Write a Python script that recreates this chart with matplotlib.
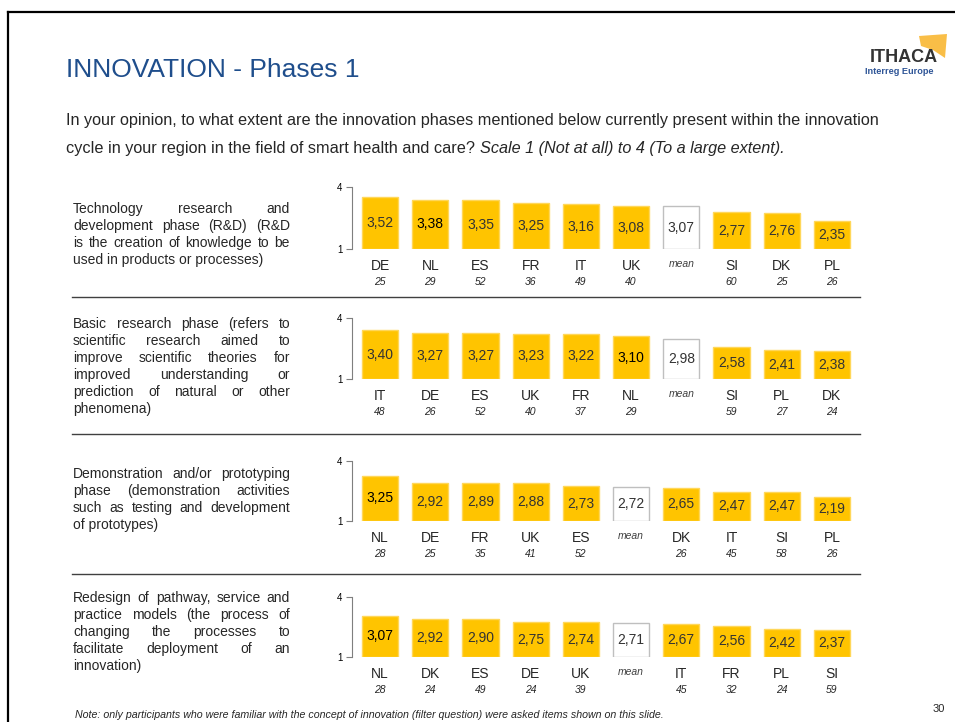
import matplotlib.pyplot as plt
from matplotlib.patches import Polygon
from matplotlib.lines import Line2D

plt.rcParams['font.family'] = ['Liberation Sans', 'DejaVu Sans']

# data: countries, mean scores and sample sizes per phase
countries1 = ['DE', 'NL', 'ES', 'FR', 'IT', 'UK', 'mean', 'SI', 'DK', 'PL']
values1 = [3.52, 3.38, 3.35, 3.25, 3.16, 3.08, 3.07, 2.77, 2.76, 2.35]
n1 = ['25', '29', '52', '36', '49', '40', '', '60', '25', '26']

countries2 = ['IT', 'DE', 'ES', 'UK', 'FR', 'NL', 'mean', 'SI', 'PL', 'DK']
values2 = [3.40, 3.27, 3.27, 3.23, 3.22, 3.10, 2.98, 2.58, 2.41, 2.38]
n2 = ['48', '26', '52', '40', '37', '29', '', '59', '27', '24']

countries3 = ['NL', 'DE', 'FR', 'UK', 'ES', 'mean', 'DK', 'IT', 'SI', 'PL']
values3 = [3.25, 2.92, 2.89, 2.88, 2.73, 2.72, 2.65, 2.47, 2.47, 2.19]
n3 = ['28', '25', '35', '41', '52', '', '26', '45', '58', '26']

countries4 = ['NL', 'DK', 'ES', 'DE', 'UK', 'mean', 'IT', 'FR', 'PL', 'SI']
values4 = [3.07, 2.92, 2.90, 2.75, 2.74, 2.71, 2.67, 2.56, 2.42, 2.37]
n4 = ['28', '24', '49', '24', '39', '', '45', '32', '24', '59']

descriptions = [
    ['Technology research and', 'development phase (R&D) (R&D',
     'is the creation of knowledge to be', 'used in products or processes)'],
    ['Basic research phase (refers to', 'scientific research aimed to',
     'improve scientific theories for', 'improved understanding or',
     'prediction of natural or other', 'phenomena)'],
    ['Demonstration and/or prototyping', 'phase (demonstration activities',
     'such as testing and development', 'of prototypes)'],
    ['Redesign of pathway, service and', 'practice models (the process of',
     'changing the processes to', 'facilitate deployment of an',
     'innovation)'],
]

W, H = 955, 722
fig = plt.figure(figsize=(W / 100, H / 100), dpi=100)


def fx(x):
    return x / W


def fy(y):
    return 1 - y / H


# page frame
fig.add_artist(Line2D([fx(8), fx(955)], [fy(12), fy(12)], color='black', lw=1.6))
fig.add_artist(Line2D([fx(8), fx(8)], [fy(12), fy(722)], color='black', lw=1.6))

fig.text(fx(66), fy(70), 'INNOVATION - Phases 1', fontsize=19, color='#1F4E8C', va='center')
fig.text(fx(66), fy(121), 'In your opinion, to what extent are the innovation phases mentioned below '
         'currently present within the innovation', fontsize=11.7, color='#262626', va='center')
t = fig.text(fx(66), fy(149), 'cycle in your region in the field of smart health and care? ',
             fontsize=11.7, color='#262626', va='center')
fig.canvas.draw()
r = fig.canvas.get_renderer()
bb = t.get_window_extent(r)
fig.text(bb.x1 / W, fy(149), 'Scale 1 (Not at all) to 4 (To a large extent).',
         fontsize=11.7, color='#262626', va='center', style='italic')

# logo
fig.add_artist(Polygon([(fx(919), fy(36)), (fx(947), fy(34)), (fx(945), fy(58)),
                        (fx(933), fy(50)), (fx(921), fy(46))], closed=True,
                       facecolor='#F9B733', edgecolor='none', alpha=0.9))
fig.text(fx(904), fy(57), 'ITHACA', fontsize=13, weight='bold', color='#333333',
         ha='center', va='center')
fig.text(fx(899), fy(72), 'Interreg Europe', fontsize=6.6, weight='bold', color='#2F5597',
         ha='center', va='center')

fig.text(fx(75), fy(715), 'Note: only participants who were familiar with the concept of innovation '
         '(filter question) were asked items shown on this slide.',
         fontsize=7.7, style='italic', color='#262626', va='center')
fig.text(fx(945), fy(709), '30', fontsize=8, color='#262626', ha='right', va='center')


def justified(lines, x0, x1, y0, step, size=10):
    for k, line in enumerate(lines):
        y = fy(y0 + k * step)
        words = line.split()
        if k == len(lines) - 1 or len(words) == 1:
            fig.text(fx(x0), y, line, fontsize=size, color='#262626', va='center')
            continue
        objs = [fig.text(0, y, w, fontsize=size, color='#262626', va='center') for w in words]
        widths = [o.get_window_extent(r).width for o in objs]
        gap = (x1 - x0 - sum(widths)) / (len(words) - 1)
        x = x0
        for o, w in zip(objs, widths):
            o.set_x(fx(x))
            x += w + gap


panels = [
    (countries1, values1, n1, 187, 249, 209),
    (countries2, values2, n2, 318, 379, 324),
    (countries3, values3, n3, 461, 521, 474),
    (countries4, values4, n4, 597, 657, 598),
]

gold = '#FFC400'
for idx, (cats, vals, ns, ytop, ybot, ytext) in enumerate(panels):
    ax = fig.add_axes([fx(352), fy(ybot), fx(857) - fx(352), (ybot - ytop) / H])
    xs = list(range(len(cats)))
    faces = ['white' if c == 'mean' else gold for c in cats]
    edges = ['#BFBFBF' if c == 'mean' else '#FFD75A' for c in cats]
    ax.bar(xs, [v - 1 for v in vals], bottom=1, width=0.72, color=faces,
           edgecolor=edges, linewidth=1)
    ax.set_xlim(-0.56, 9.5)
    ax.set_ylim(1, 4)
    ax.set_yticks([1, 4])
    ax.set_yticklabels(['1', '4'])
    ax.tick_params(axis='y', labelsize=7, length=4, color='#7F7F7F', pad=3)
    ax.set_xticks([])
    for s in ['top', 'right', 'bottom']:
        ax.spines[s].set_visible(False)
    ax.spines['left'].set_color('#7F7F7F')
    ax.patch.set_alpha(0)
    for i, (c, v, n) in enumerate(zip(cats, vals, ns)):
        ax.text(i, (1 + v) / 2, f'{v:.2f}'.replace('.', ','), ha='center', va='center',
                fontsize=10, color='black' if c == 'NL' else '#333333')
        if c == 'mean':
            ax.annotate('mean', (i, 1), xytext=(0, -15), textcoords='offset pixels',
                        ha='center', va='center', fontsize=7.5, style='italic', color='#404040')
        else:
            ax.annotate(c, (i, 1), xytext=(0, -17), textcoords='offset pixels',
                        ha='center', va='center', fontsize=10, color='#262626')
            ax.annotate(n, (i, 1), xytext=(0, -33), textcoords='offset pixels',
                        ha='center', va='center', fontsize=7.5, style='italic', color='#262626')
    justified(descriptions[idx], 73, 290, ytext, 17)

for y in [297, 434, 574]:
    fig.add_artist(Line2D([fx(72), fx(860)], [fy(y), fy(y)], color='#404040', lw=1))

fig.savefig('out.png', dpi=100)
